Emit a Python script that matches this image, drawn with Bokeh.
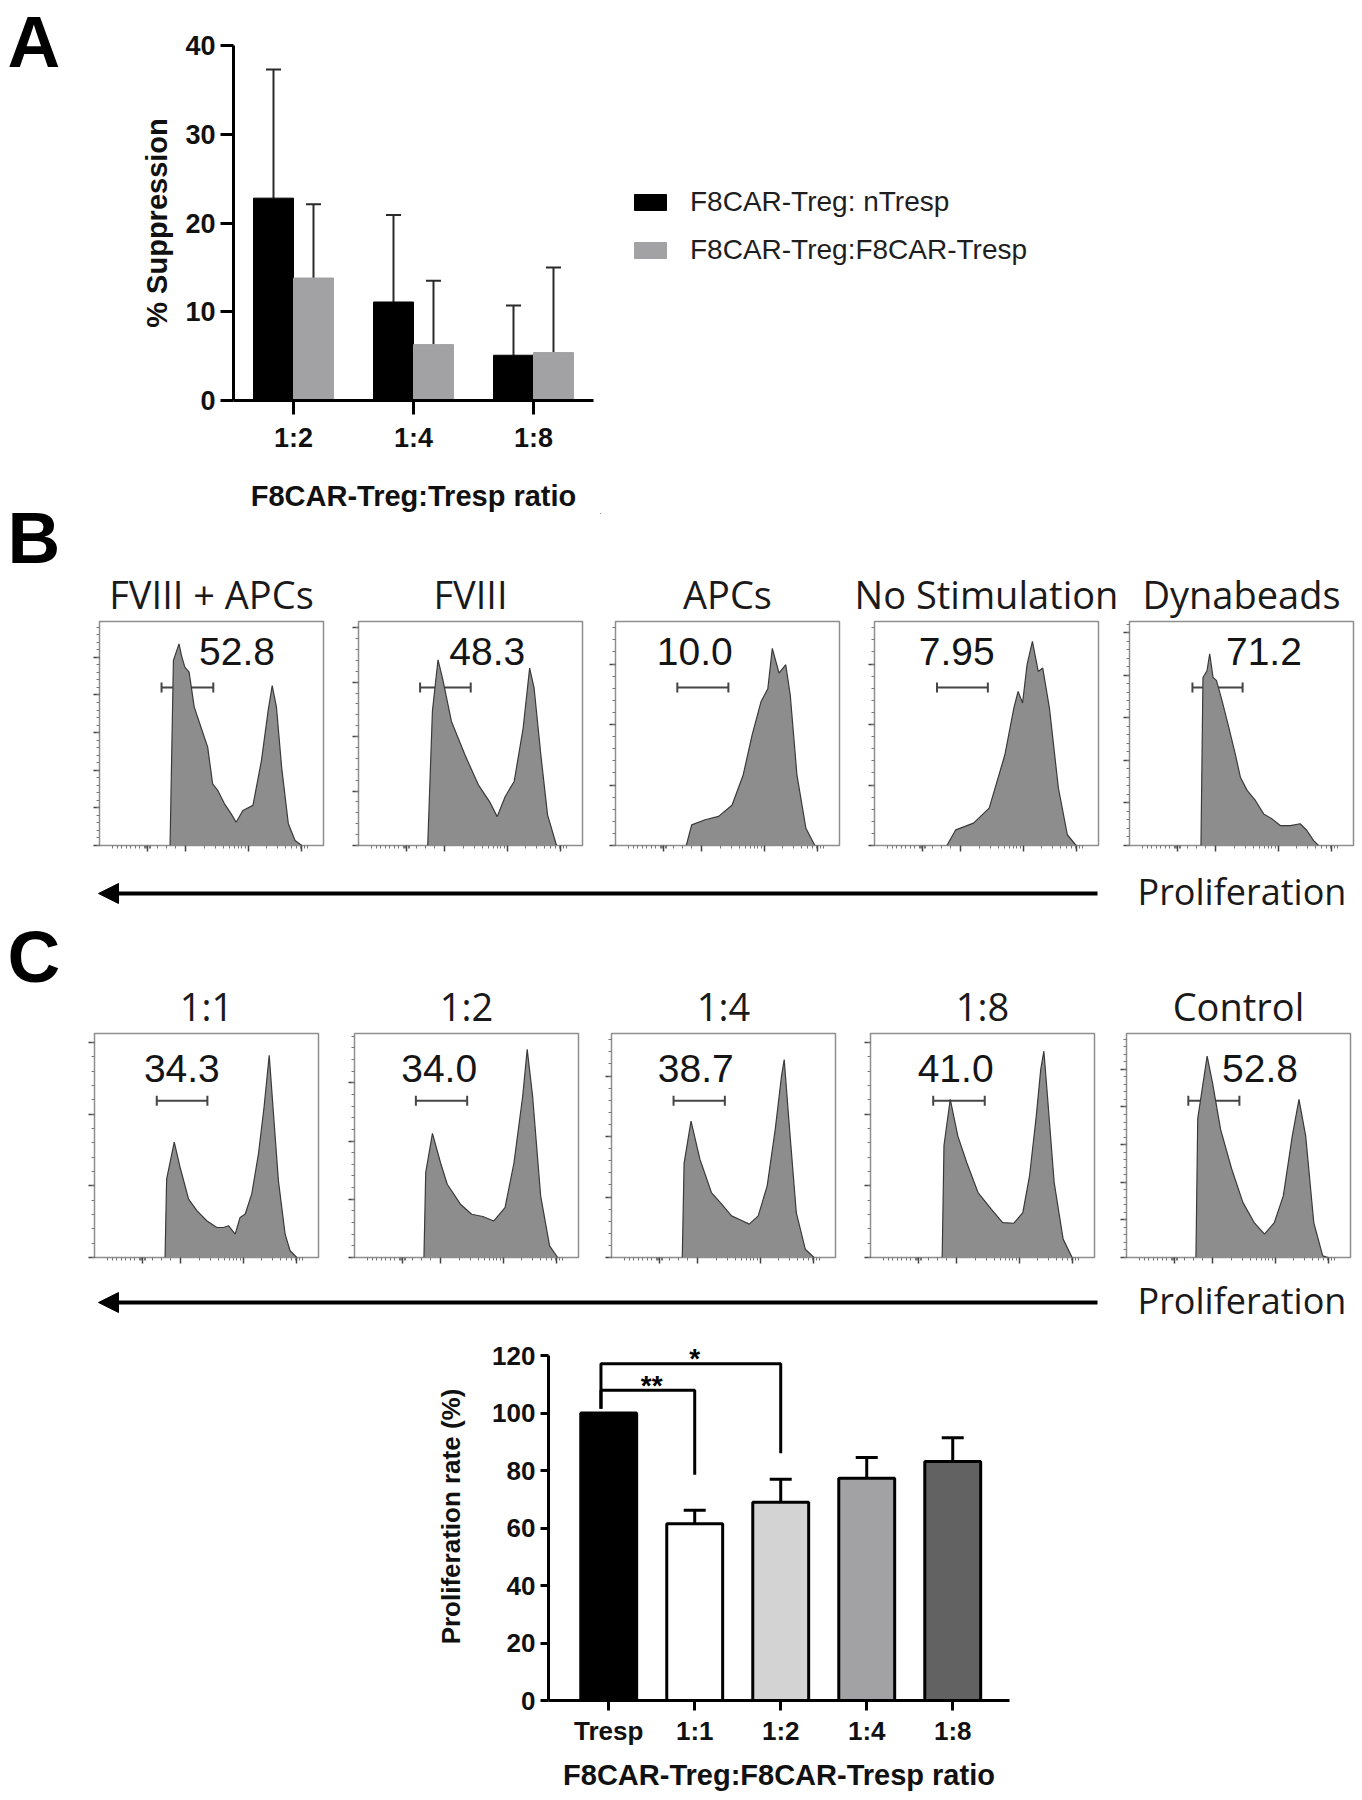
import math
from bokeh.plotting import figure
from bokeh.layouts import column, row
from bokeh.models import (Range1d, FixedTicker, SingleIntervalTicker, Label, Legend, LegendItem,
                          Whisker, TeeHead, Arrow, NormalHead, ColumnDataSource, CustomJSTickFormatter)
from bokeh.embed import file_html
from bokeh.resources import INLINE

ARIAL = "Liberation Sans"
HUM = "Open Sans"

# ---------------- Panel A data ----------------
a_ratios = ["1:2", "1:4", "1:8"]
a_series = ["F8CAR-Treg: nTresp", "F8CAR-Treg:F8CAR-Tresp"]
a_ntresp_mean = [22.8, 11.1, 5.1]
a_ntresp_sd = [14.5, 9.8, 5.6]
a_f8tresp_mean = [13.8, 6.3, 5.4]
a_f8tresp_sd = [8.3, 7.2, 9.6]
a_yticks = [0, 10, 20, 30, 40]

# ---------------- Panel B data (normalised histogram outlines) ----------------
b_titles = ["FVIII + APCs", "FVIII", "APCs", "No Stimulation", "Dynabeads"]
b_percent = ["52.8", "48.3", "10.0", "7.95", "71.2"]
b_percent_x = [0.614, 0.575, 0.354, 0.367, 0.60]
b_gate_lo = [0.277, 0.275, 0.276, 0.279, 0.281]
b_gate_hi = [0.508, 0.501, 0.504, 0.506, 0.505]

b1_x = [0.315, 0.33, 0.355, 0.366, 0.381, 0.40, 0.423, 0.453, 0.483, 0.505, 0.528, 0.558, 0.588, 0.61, 0.64, 0.685, 0.723, 0.753, 0.771, 0.79, 0.813, 0.843, 0.873, 0.903]
b1_y = [0.0, 0.826, 0.90, 0.848, 0.796, 0.774, 0.618, 0.528, 0.439, 0.275, 0.246, 0.186, 0.141, 0.104, 0.156, 0.179, 0.379, 0.603, 0.714, 0.618, 0.35, 0.097, 0.022, 0.0]
b2_x = [0.309, 0.33, 0.355, 0.375, 0.415, 0.475, 0.535, 0.585, 0.619, 0.655, 0.695, 0.735, 0.764, 0.784, 0.814, 0.844, 0.884]
b2_y = [0.0, 0.60, 0.829, 0.747, 0.554, 0.405, 0.271, 0.196, 0.129, 0.219, 0.286, 0.524, 0.792, 0.702, 0.405, 0.137, 0.0]
b3_x = [0.316, 0.34, 0.40, 0.46, 0.52, 0.57, 0.61, 0.65, 0.68, 0.70, 0.73, 0.76, 0.78, 0.81, 0.85, 0.89]
b3_y = [0.0, 0.092, 0.115, 0.13, 0.18, 0.315, 0.494, 0.643, 0.70, 0.88, 0.77, 0.807, 0.673, 0.315, 0.077, 0.0]
b4_x = [0.323, 0.363, 0.442, 0.512, 0.582, 0.622, 0.641, 0.661, 0.681, 0.705, 0.731, 0.751, 0.781, 0.821, 0.861, 0.90]
b4_y = [0.0, 0.07, 0.10, 0.167, 0.405, 0.613, 0.688, 0.636, 0.807, 0.911, 0.777, 0.792, 0.613, 0.256, 0.048, 0.0]
b5_x = [0.319, 0.328, 0.346, 0.358, 0.373, 0.388, 0.413, 0.443, 0.472, 0.495, 0.525, 0.562, 0.599, 0.636, 0.673, 0.718, 0.762, 0.792, 0.822, 0.844]
b5_y = [0.0, 0.75, 0.78, 0.856, 0.75, 0.737, 0.647, 0.528, 0.409, 0.305, 0.246, 0.201, 0.141, 0.119, 0.089, 0.089, 0.097, 0.067, 0.022, 0.0]
b_yinterval = [0.168, 0.243, 0.27, 0.27, 0.19]

# ---------------- Panel C data ----------------
c_titles = ["1:1", "1:2", "1:4", "1:8", "Control"]
c_percent = ["34.3", "34.0", "38.7", "41.0", "52.8"]
c_percent_x = [0.39, 0.378, 0.376, 0.38, 0.596]
c_gate_lo = [0.278, 0.274, 0.277, 0.28, 0.276]
c_gate_hi = [0.504, 0.503, 0.506, 0.51, 0.504]

c1_x = [0.315, 0.322, 0.356, 0.382, 0.42, 0.457, 0.501, 0.546, 0.576, 0.598, 0.628, 0.65, 0.673, 0.702, 0.732, 0.757, 0.78, 0.799, 0.821, 0.851, 0.873, 0.903]
c1_y = [0.0, 0.35, 0.515, 0.403, 0.261, 0.209, 0.164, 0.134, 0.134, 0.142, 0.104, 0.179, 0.194, 0.284, 0.463, 0.672, 0.903, 0.642, 0.343, 0.104, 0.03, 0.0]
c2_x = [0.31, 0.318, 0.348, 0.384, 0.414, 0.473, 0.523, 0.573, 0.622, 0.672, 0.712, 0.751, 0.771, 0.795, 0.831, 0.871, 0.907]
c2_y = [0.0, 0.38, 0.554, 0.423, 0.327, 0.238, 0.193, 0.183, 0.163, 0.223, 0.423, 0.721, 0.929, 0.721, 0.275, 0.052, 0.0]
c3_x = [0.316, 0.324, 0.355, 0.395, 0.446, 0.486, 0.536, 0.586, 0.615, 0.655, 0.695, 0.731, 0.759, 0.771, 0.795, 0.825, 0.865, 0.904]
c3_y = [0.0, 0.42, 0.609, 0.438, 0.29, 0.245, 0.186, 0.163, 0.149, 0.186, 0.32, 0.572, 0.81, 0.884, 0.572, 0.20, 0.037, 0.0]
c4_x = [0.32, 0.328, 0.356, 0.39, 0.43, 0.48, 0.54, 0.59, 0.64, 0.68, 0.71, 0.74, 0.76, 0.774, 0.79, 0.82, 0.86, 0.90]
c4_y = [0.0, 0.50, 0.706, 0.542, 0.423, 0.29, 0.215, 0.156, 0.153, 0.20, 0.364, 0.631, 0.84, 0.921, 0.721, 0.334, 0.082, 0.0]
c5_x = [0.31, 0.318, 0.36, 0.384, 0.42, 0.47, 0.52, 0.57, 0.616, 0.66, 0.70, 0.74, 0.77, 0.80, 0.836, 0.876, 0.90]
c5_y = [0.0, 0.62, 0.899, 0.78, 0.572, 0.394, 0.245, 0.156, 0.104, 0.156, 0.275, 0.542, 0.706, 0.542, 0.156, 0.007, 0.0]
c_yinterval = [0.32, 0.26, 0.27, 0.32, 0.168]

# ---------------- Proliferation-rate bar chart ----------------
r_groups = ["Tresp", "1:1", "1:2", "1:4", "1:8"]
r_mean = [100.0, 61.5, 69.0, 77.3, 83.1]
r_sd = [0.0, 4.7, 8.0, 7.2, 8.3]
r_yticks = [0, 20, 40, 60, 80, 100, 120]
sig_from = [0, 0]
sig_to = [1, 2]
sig_height = [107.9, 117.1]
sig_left_end = [101.5, 101.5]
sig_right_end = [78.5, 86.0]
sig_text = ["**", "*"]

# =====================================================================
W = 1362
H = 1800
LW = 80           # width of the column holding the panel letters
RW = W - LW       # width of everything else
BOX = 224


def canvas(width, height):
    """A blank figure whose frame is the whole canvas (1 unit = 1 px, y up)."""
    s = figure(width=width, height=height, x_range=Range1d(0, width), y_range=Range1d(0, height),
               output_backend="svg", toolbar_location=None, title=None,
               x_axis_type=None, y_axis_type=None,
               min_border_left=0, min_border_right=0, min_border_top=0, min_border_bottom=0)
    s.outline_line_color = None
    s.grid.visible = False
    return s


def style_axis(ax, font_size, tick_out):
    ax.axis_line_width = 3
    ax.axis_line_color = "black"
    ax.major_tick_line_width = 3
    ax.major_tick_line_color = "black"
    ax.major_tick_out = tick_out
    ax.major_tick_in = 0
    ax.minor_tick_line_color = None
    ax.major_label_text_font = ARIAL
    ax.major_label_text_font_style = "bold"
    ax.major_label_text_font_size = font_size
    ax.major_label_text_color = "#111111"
    ax.axis_label_text_font = ARIAL
    ax.axis_label_text_font_style = "bold"
    ax.axis_label_text_color = "#111111"


# ---------- panel letters (own tall column) ----------
figLetters = canvas(LW, H)
for t, ly, base in (("A", H, "top"), ("B", H - 537, "middle"), ("C", H - 956, "middle")):
    figLetters.add_layout(Label(x=7, y=ly, text=t, text_font=ARIAL, text_font_style="bold",
                                text_font_size="73px", text_baseline=base, text_color="black"))

# ---------- Row 1 : panel A ----------
H1 = 514
pA = figure(width=520, height=H1, x_range=Range1d(-0.5, 2.5), y_range=Range1d(0, 40),
            output_backend="svg", toolbar_location=None, title=None,
            min_border_left=233 - LW, min_border_right=7, min_border_top=45, min_border_bottom=109)
srcA = ColumnDataSource(dict(
    xn=[i - 1 / 6 for i in range(len(a_ratios))],
    xf=[i + 1 / 6 for i in range(len(a_ratios))],
    n=a_ntresp_mean, nt=[m + s for m, s in zip(a_ntresp_mean, a_ntresp_sd)],
    f=a_f8tresp_mean, ft=[m + s for m, s in zip(a_f8tresp_mean, a_f8tresp_sd)]))
pA.vbar(x="xn", top="n", width=1 / 3, source=srcA, fill_color="black", line_color="black")
pA.vbar(x="xf", top="f", width=1 / 3, source=srcA, fill_color="#a2a2a4", line_color="#a2a2a4")
for base, lo, up in (("xn", "n", "nt"), ("xf", "f", "ft")):
    pA.add_layout(Whisker(source=srcA, base=base, lower=lo, upper=up, line_color="#2a2a2a", line_width=2,
                          lower_head=None, upper_head=TeeHead(size=15, line_color="#2a2a2a", line_width=2)))
pA.xaxis.ticker = FixedTicker(ticks=list(range(len(a_ratios))))
pA.xaxis.major_label_overrides = {i: t for i, t in enumerate(a_ratios)}
pA.yaxis.ticker = FixedTicker(ticks=a_yticks)
style_axis(pA.xaxis[0], "27px", 14)
style_axis(pA.yaxis[0], "27px", 13)
pA.xaxis.major_label_standoff = 8
pA.yaxis.major_label_standoff = 5
pA.xaxis.axis_label = "F8CAR-Treg:Tresp ratio"
pA.xaxis.axis_label_text_font_size = "29px"
pA.xaxis.axis_label_standoff = 24
pA.yaxis.axis_label = "% Suppression"
pA.yaxis.axis_label_text_font_size = "29px"
pA.yaxis.axis_label_standoff = 9
pA.grid.visible = False
pA.outline_line_color = None

# legend lives in its own blank canvas to the right of panel A
figLegA = canvas(RW - 520, H1)
ln = figLegA.vbar(x=[-500], top=[1], width=1, fill_color="black", line_color="black")
lf = figLegA.vbar(x=[-500], top=[1], width=1, fill_color="#a2a2a4", line_color="#a2a2a4")
figLegA.add_layout(Legend(items=[LegendItem(label=a_series[0], renderers=[ln]),
                                 LegendItem(label=a_series[1], renderers=[lf])],
                          location=(30, H1 - 266), glyph_width=40, glyph_height=20, label_height=20,
                          label_text_font=ARIAL, label_text_font_size="28px", label_text_color="#1e1e1e",
                          label_standoff=20, spacing=16, padding=0, margin=0,
                          border_line_color=None, background_fill_alpha=0))

row1 = row(column(pA), column(figLegA))

# ---------- FACS histograms ----------
facs_major = [0.216, 0.385, 0.663, 0.903]
facs_minor = [0.06, 0.08, 0.10, 0.12, 0.14, 0.16, 0.18, 0.20, 0.206, 0.211, 0.221, 0.226, 0.26, 0.30, 0.34]
for b0 in (0.385, 0.663):
    for k in range(2, 10):
        t = b0 + 0.278 * math.log10(k)
        if t < 0.99:
            facs_minor.append(round(t, 4))


def facs_fig(width, mbl, height, xs, ys, pct, pct_x, pct_y, g0, g1, gy, yint):
    p = figure(width=width, height=height, x_range=Range1d(0, 1), y_range=Range1d(0, 1),
               output_backend="svg", toolbar_location=None, title=None,
               min_border_left=mbl, min_border_right=width - mbl - BOX,
               min_border_top=2, min_border_bottom=height - 2 - BOX)
    p.varea(x=xs, y1=[0] * len(xs), y2=ys, fill_color="#8d8d8d")
    p.line(x=xs, y=ys, line_color="#3a3a3a", line_width=1.2)
    gsrc = ColumnDataSource(dict(b=[gy], lo=[g0], up=[g1]))
    p.add_layout(Whisker(source=gsrc, base="b", lower="lo", upper="up", dimension="width",
                         line_color="#454545", line_width=2,
                         lower_head=TeeHead(size=10, line_color="#454545", line_width=2),
                         upper_head=TeeHead(size=10, line_color="#454545", line_width=2)))
    p.add_layout(Label(x=pct_x, y=pct_y, text=pct, text_align="center", text_baseline="middle",
                       text_font=ARIAL, text_font_size="39px", text_color="#151515"))
    p.xaxis.ticker = FixedTicker(ticks=facs_major, minor_ticks=facs_minor)
    p.yaxis.ticker = SingleIntervalTicker(interval=yint, num_minor_ticks=5)
    for ax in p.axis:
        ax.formatter = CustomJSTickFormatter(code="return ''")
        ax.major_label_text_font_size = "1px"
        ax.major_label_standoff = 0
        ax.axis_line_color = None
        ax.major_tick_out = 6
        ax.major_tick_in = 0
        ax.minor_tick_out = 3
        ax.minor_tick_in = 0
        ax.major_tick_line_color = "#444444"
        ax.major_tick_line_width = 1.5
        ax.minor_tick_line_color = "#777777"
    p.grid.visible = False
    p.outline_line_color = "#8e8e8e"
    p.outline_line_width = 1.5
    return p


def title_strip(height, centers, titles):
    s = canvas(RW, height)
    for cx, t in zip(centers, titles):
        s.add_layout(Label(x=cx - LW, y=26, text=t, text_align="center", text_baseline="middle",
                           text_font=HUM, text_font_size="38px", text_color="#1a1a1a"))
    return s


def arrow_strip(height, y, text_y):
    s = canvas(RW, height)
    s.add_layout(Arrow(x_start=1097 - LW, y_start=y, x_end=98 - LW, y_end=y, line_width=4, line_color="black",
                       start=None, end=NormalHead(size=20, fill_color="black", line_color="black")))
    s.add_layout(Label(x=1137 - LW, y=text_y, text="Proliferation", text_align="left", text_baseline="middle",
                       text_font=HUM, text_font_size="36px", text_color="#1a1a1a"))
    return s


# Row B  (title strip 514-619, histograms 619-860, arrow strip 860-920)
b_x = [b1_x, b2_x, b3_x, b4_x, b5_x]
b_y = [b1_y, b2_y, b3_y, b4_y, b5_y]
b_bounds = [LW, 340, 598, 856, 1113, W]
b_left = [99, 358, 615, 874, 1129]
stripTitleB = title_strip(105, [l + BOX / 2 for l in b_left], b_titles)
figsB = []
for i in range(5):
    wdt = b_bounds[i + 1] - b_bounds[i]
    figsB.append(column(facs_fig(wdt, b_left[i] - b_bounds[i], 241, b_x[i], b_y[i], b_percent[i],
                                 b_percent_x[i], 0.865, b_gate_lo[i], b_gate_hi[i], 0.705, b_yinterval[i])))
stripB = arrow_strip(60, 27, 29)

# Row C  (title strip 920-1031, histograms 1031-1269, arrow strip 1269-1330)
c_x = [c1_x, c2_x, c3_x, c4_x, c5_x]
c_y = [c1_y, c2_y, c3_y, c4_y, c5_y]
c_bounds = [LW, 336, 594, 852, 1110, W]
c_left = [94, 354, 611, 870, 1126]
stripTitleC = title_strip(111, [l + BOX / 2 for l in c_left], c_titles)
figsC = []
for i in range(5):
    wdt = c_bounds[i + 1] - c_bounds[i]
    figsC.append(column(facs_fig(wdt, c_left[i] - c_bounds[i], 238, c_x[i], c_y[i], c_percent[i],
                                 c_percent_x[i], 0.845, c_gate_lo[i], c_gate_hi[i], 0.70, c_yinterval[i])))
stripC = arrow_strip(61, 28, 30)

# ---------- Proliferation rate chart ----------
pR = figure(width=RW, height=470, x_range=Range1d(-0.7, 4.66), y_range=Range1d(0, 128),
            output_backend="svg", toolbar_location=None, title=None,
            min_border_left=548 - LW, min_border_right=W - 548 - 461, min_border_top=2, min_border_bottom=100)
bar_fill = ["black", "white", "#d3d3d3", "#a2a2a5", "#626262"]
srcR = ColumnDataSource(dict(x=list(range(len(r_groups))), top=r_mean, fill=bar_fill))
pR.vbar(x="x", top="top", width=0.65, source=srcR, fill_color="fill", line_color="black", line_width=3)
err_idx = [i for i in range(len(r_groups)) if r_sd[i] > 0]
srcE = ColumnDataSource(dict(x=err_idx, lo=[r_mean[i] for i in err_idx],
                             up=[r_mean[i] + r_sd[i] for i in err_idx]))
pR.add_layout(Whisker(source=srcE, base="x", lower="lo", upper="up", line_color="black", line_width=3,
                      lower_head=None, upper_head=TeeHead(size=22, line_color="black", line_width=3)))
bx, by = [], []
for a, b, h, le, re in zip(sig_from, sig_to, sig_height, sig_left_end, sig_right_end):
    bx.append([a - 0.09, a - 0.09, b, b])
    by.append([le, h, h, re])
pR.multi_line(xs=bx, ys=by, line_color="black", line_width=3)
for a, b, h, t in zip(sig_from, sig_to, sig_height, sig_text):
    pR.add_layout(Label(x=(a + b) / 2, y=h + 1.8, text=t, text_align="center", text_baseline="middle",
                        text_font=ARIAL, text_font_style="bold", text_font_size="28px", text_color="black"))
pR.xaxis.ticker = FixedTicker(ticks=list(range(len(r_groups))))
pR.xaxis.major_label_overrides = {i: g for i, g in enumerate(r_groups)}
pR.yaxis.ticker = FixedTicker(ticks=r_yticks)
pR.yaxis.bounds = (0, 120)
style_axis(pR.xaxis[0], "26px", 10)
style_axis(pR.yaxis[0], "26px", 8)
pR.xaxis.major_label_standoff = 5
pR.yaxis.major_label_standoff = 5
pR.xaxis.axis_label = "F8CAR-Treg:F8CAR-Tresp ratio"
pR.xaxis.axis_label_text_font_size = "29px"
pR.xaxis.axis_label_standoff = 10
pR.yaxis.axis_label = "Proliferation rate (%)"
pR.yaxis.axis_label_text_font_size = "26px"
pR.yaxis.axis_label_standoff = 23
pR.grid.visible = False
pR.outline_line_color = None

right = column(row1, row(stripTitleB), row(*figsB), row(stripB),
               row(stripTitleC), row(*figsC), row(stripC), row(pR))
layout = row(column(figLetters), right)
open("out.html", "w").write(file_html(layout, INLINE))
